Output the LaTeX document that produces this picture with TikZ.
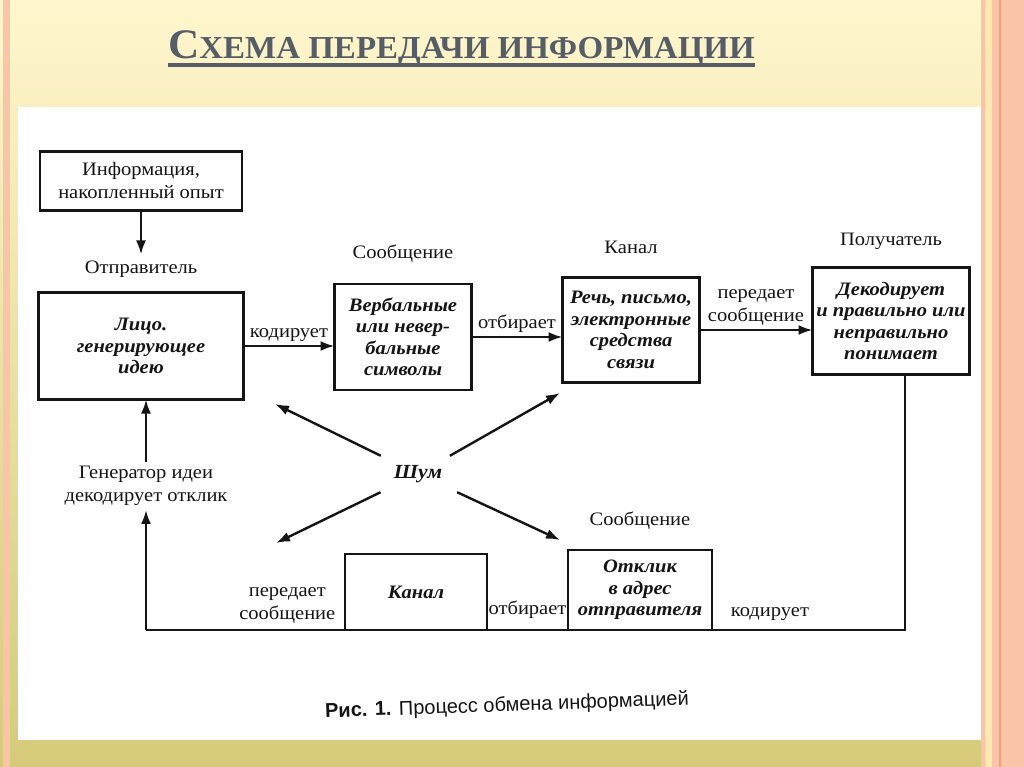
\documentclass[tikz,border=0pt]{standalone}
\usepackage{fontspec}
\setmainfont{Liberation Serif}
\newfontfamily\scanfont[FakeStretch=1.08]{Liberation Serif}
\newfontfamily\slidefont[FakeStretch=1.03]{Liberation Serif}
\newfontfamily\figfont{Liberation Sans}
\usepackage{tikz}
\usetikzlibrary{
	positioning,
	arrows.meta
}
\definecolor{ScanInk}{RGB}{21,21,21}
\definecolor{SlideTitle}{RGB}{84,93,104}
\definecolor{SlideCream}{RGB}{255,246,205}
\definecolor{SlideOlive}{RGB}{214,202,122}
\definecolor{SlideSalmon}{RGB}{250,196,168}
\definecolor{SlidePale}{RGB}{254,234,176}
\definecolor{SlideDeep}{RGB}{240,160,120}

\begin{document}
\begin{tikzpicture}[
	x=1pt,
	y=-1pt,
	every node/.style={
		font=\scanfont\fontsize{19}{23}\selectfont,
		text=ScanInk,
		inner sep=0pt
	},
	block/.style={
		draw=ScanInk,
		line width=2.6pt,
		outer sep=0pt,
		align=center,
		font=\scanfont\bfseries\itshape\fontsize{19}{21.5}\selectfont
	},
	flow/.style={
		-{Latex[length=14pt,width=10pt]},
		line width=2.4pt,
		ScanInk
	},
	wire/.style={
		line width=2.4pt,
		ScanInk
	}
	]
	
	\useasboundingbox (0,0) rectangle (1024,767);
	\shade[
	top color=SlideCream,
	middle color=SlideCream,
	bottom color=SlideOlive
	] (0,0) rectangle (1024,767);
	\fill[white] (18,107) rectangle (981,740);
	\fill[SlideSalmon] (3,0) rectangle (10,767);
	\fill[SlideSalmon] (981,0) rectangle (1024,767);
	\fill[SlidePale] (985,0) rectangle (992,767);
	\fill[SlideDeep] (999,0) rectangle (1001,767);
	
	\node[
	anchor=base west,
	text=SlideTitle,
	font=\slidefont\bfseries
	] (title) at (168,59) {{\fontsize{42}{42}\selectfont С}{\fontsize{32}{32}\selectfont ХЕМА ПЕРЕДАЧИ ИНФОРМАЦИИ}};
	
	\draw[
	SlideTitle,
	line width=4pt
	] ([yshift=-6pt]title.base west) -- ([yshift=-6pt]title.base east);
	
	\node[
	block,
	font=\scanfont\fontsize{19}{23}\selectfont,
	minimum width=202pt,
	minimum height=59pt
	] (info) at (141,181) {Информация,\\накопленный опыт};
	
	\node[
	block,
	minimum width=205pt,
	minimum height=107pt
	] (sender) at (141,346) {Лицо.\\генерирующее\\идею};
	
	\node[
	block,
	minimum width=137pt,
	minimum height=106pt
	] (symbols) at (403,337) {Вербальные\\или невер-\\бальные\\символы};
	
	\node[
	block,
	minimum width=137pt,
	minimum height=105pt
	] (medium) at (631,330) {Речь, письмо,\\электронные\\средства\\связи};
	
	\node[
	block,
	minimum width=157pt,
	minimum height=107pt
	] (receiver) at (891,321) {Декодирует\\и правильно или\\неправильно\\понимает};
	
	\node[
	block,
	minimum width=142pt,
	minimum height=76pt
	] (channel) at (416,592) {Канал};
	
	\node[
	block,
	minimum width=144pt,
	minimum height=80pt
	] (reply) at (640,590) {Отклик\\в адрес\\отправителя};
	
	\node[above=15pt of sender] (sendername) {Отправитель};
	\node[above=21pt of symbols] (symbolsname) {Сообщение};
	\node[above=24pt of medium] (mediumname) {Канал};
	\node[above=18pt of receiver] (receivername) {Получатель};
	\node[above=20pt of reply] (replyname) {Сообщение};
	
	\node[
	align=center,
	inner sep=4pt
	] (decoder) at (146,486) {Генератор идеи\\декодирует отклик};
	
	\node[
	font=\scanfont\bfseries\itshape\fontsize{20}{23}\selectfont,
	minimum width=80pt,
	minimum height=36pt
	] (noise) at (418,474) {Шум};
	
	\coordinate (turnright) at (905,630);
	\coordinate (turnleft) at (146,630);
	\coordinate (noiseA) at (275,404);
	\coordinate (noiseB) at (560,393);
	\coordinate (noiseC) at (276,543);
	\coordinate (noiseD) at (560,540);
	
	\draw[
	flow,
	shorten >=6pt
	] (info) -- (sendername);
	
	\draw[flow] (sender.east) -- node[above=3pt] {кодирует} (sender.east -| symbols.west);
	\draw[flow] (symbols.east) -- node[above=3pt] {отбирает} (symbols.east -| medium.west);
	\draw[flow] (medium.east) -- node[above=3pt, align=center] {передает\\сообщение} (medium.east -| receiver.west);
	
	\draw[wire] (receiver.south -| turnright) -- (turnright) -- node[above=8pt, pos=0.7] {кодирует} (reply.south east);
	\draw[wire] (reply.south west) -- node[above=10pt] {отбирает} (channel.south east);
	\draw[wire] (channel.south west) -- node[above=5pt, pos=0.29, align=center] {передает\\сообщение} (turnleft);
	\draw[flow] (turnleft) -- (decoder);
	\draw[flow] (decoder) -- (decoder |- sender.south);
	
	\draw[flow] (noise) -- (noiseA);
	\draw[flow] (noise) -- (noiseB);
	\draw[flow] (noise) -- (noiseC);
	\draw[flow] (noise) -- (noiseD);
	
	\node[
	font=\figfont\fontsize{20}{24}\selectfont,
	rotate=2
	] (figcaption) at (507,706) {\textbf{Рис. 1.} Процесс обмена информацией};
	
\end{tikzpicture}
\end{document}
